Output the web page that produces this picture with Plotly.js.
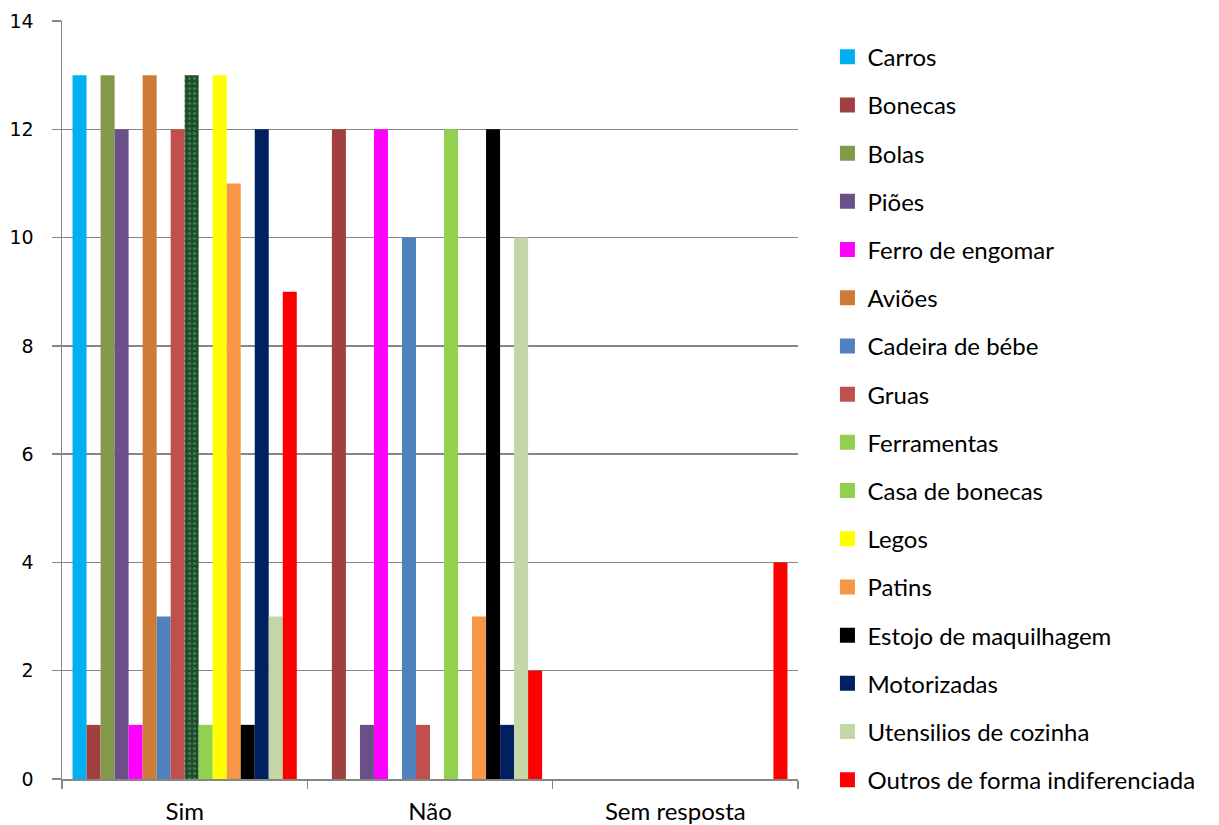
<!DOCTYPE html>
<html>
<head>
<meta charset="utf-8">
<script src="https://cdn.plot.ly/plotly-3.0.1.min.js"></script>
<style>html,body{margin:0;padding:0;background:#fff;}#chart{width:1219px;height:825px;}</style>
</head>
<body>
<div id="chart"></div>
<script>
const categories = ["Sim", "Não", "Sem resposta"];
const seriesNames = ["Carros", "Bonecas", "Bolas", "Piões", "Ferro de engomar", "Aviões", "Cadeira de bébe", "Gruas", "Ferramentas", "Casa de bonecas", "Legos", "Patins", "Estojo de maquilhagem", "Motorizadas", "Utensilios de cozinha", "Outros de forma indiferenciada"];
const carros = [13, 0, 0];
const bonecas = [1, 12, 0];
const bolas = [13, 0, 0];
const pioes = [12, 1, 0];
const ferro = [1, 12, 0];
const avioes = [13, 0, 0];
const cadeira = [3, 10, 0];
const gruas = [12, 1, 0];
const ferramentas = [13, 0, 0];
const casa = [1, 12, 0];
const legos = [13, 0, 0];
const patins = [11, 3, 0];
const estojo = [1, 12, 0];
const motorizadas = [12, 1, 0];
const utensilios = [3, 10, 0];
const outros = [9, 2, 4];
const seriesValues = [carros, bonecas, bolas, pioes, ferro, avioes, cadeira, gruas, ferramentas, casa, legos, patins, estojo, motorizadas, utensilios, outros];
const colors = ["#00B0F0", "#A04040", "#82994A", "#6A5086", "#FF00FF", "#CE7B37", "#4F81BD", "#C0504D", "#1E4D2B", "#92D050", "#FFFF00", "#F79646", "#000000", "#002060", "#C4D6A8", "#FF0000"];
const legendColors = colors.slice(); legendColors[8] = "#92D050";

const traces = [];
seriesNames.forEach((name, i) => {
  const t = {
    type: "bar", name: name, x: categories, y: seriesValues[i],
    marker: {color: colors[i], line: {width: 0}},
    legendgroup: "g" + i, showlegend: false, hoverinfo: "name+y"
  };
  if (i === 8) {
    t.marker.pattern = {shape: ".", fgcolor: "#3F7A50", bgcolor: "#1E4D2B", size: 5, solidity: 0.3};
  }
  traces.push(t);
});
// legend entries (no marks drawn: y is empty)
seriesNames.forEach((name, i) => {
  traces.push({type: "scatter", mode: "markers", name: name, x: [categories[0]], y: [null],
    marker: {symbol: "square", size: 15, color: legendColors[i], line: {width: 0}},
    legendgroup: "g" + i, showlegend: true, hoverinfo: "skip"});
});

const layout = {
  width: 1219, height: 825,
  margin: {l: 62, r: 421, t: 21, b: 46},
  paper_bgcolor: "#fff", plot_bgcolor: "#fff",
  barmode: "group", bargap: 0.086, bargroupgap: 0,
  font: {family: "Lato, sans-serif", color: "#000"},
  xaxis: {
    type: "category", showgrid: false, showline: true, linecolor: "#868686", linewidth: 1.5,
    ticks: "outside", tickson: "boundaries", ticklen: 8, tickcolor: "#868686", tickwidth: 1.5,
    tickfont: {family: "Lato, sans-serif", size: 24, color: "#000"}, ticklabelstandoff: 11, fixedrange: true
  },
  yaxis: {
    range: [0, 14], dtick: 2, showgrid: true, gridcolor: "#868686", gridwidth: 1.5,
    showline: true, linecolor: "#868686", linewidth: 1.5, zeroline: false,
    ticks: "outside", ticklen: 9, tickcolor: "#868686", tickwidth: 1.5,
    tickfont: {family: "DejaVu Sans, sans-serif", size: 19, color: "#000"}, ticklabelstandoff: 14
  },
  legend: {
    x: 1.04, xanchor: "left", xref: "paper", y: 0.982, yanchor: "top",
    traceorder: "grouped", tracegroupgap: 14, maxheight: 1,
    font: {family: "Lato, sans-serif", size: 24, color: "#000"},
    itemwidth: 30, bgcolor: "rgba(0,0,0,0)"
  },
  showlegend: true
};

Plotly.newPlot("chart", traces, layout, {displayModeBar: false, staticPlot: true});
</script>
</body>
</html>
